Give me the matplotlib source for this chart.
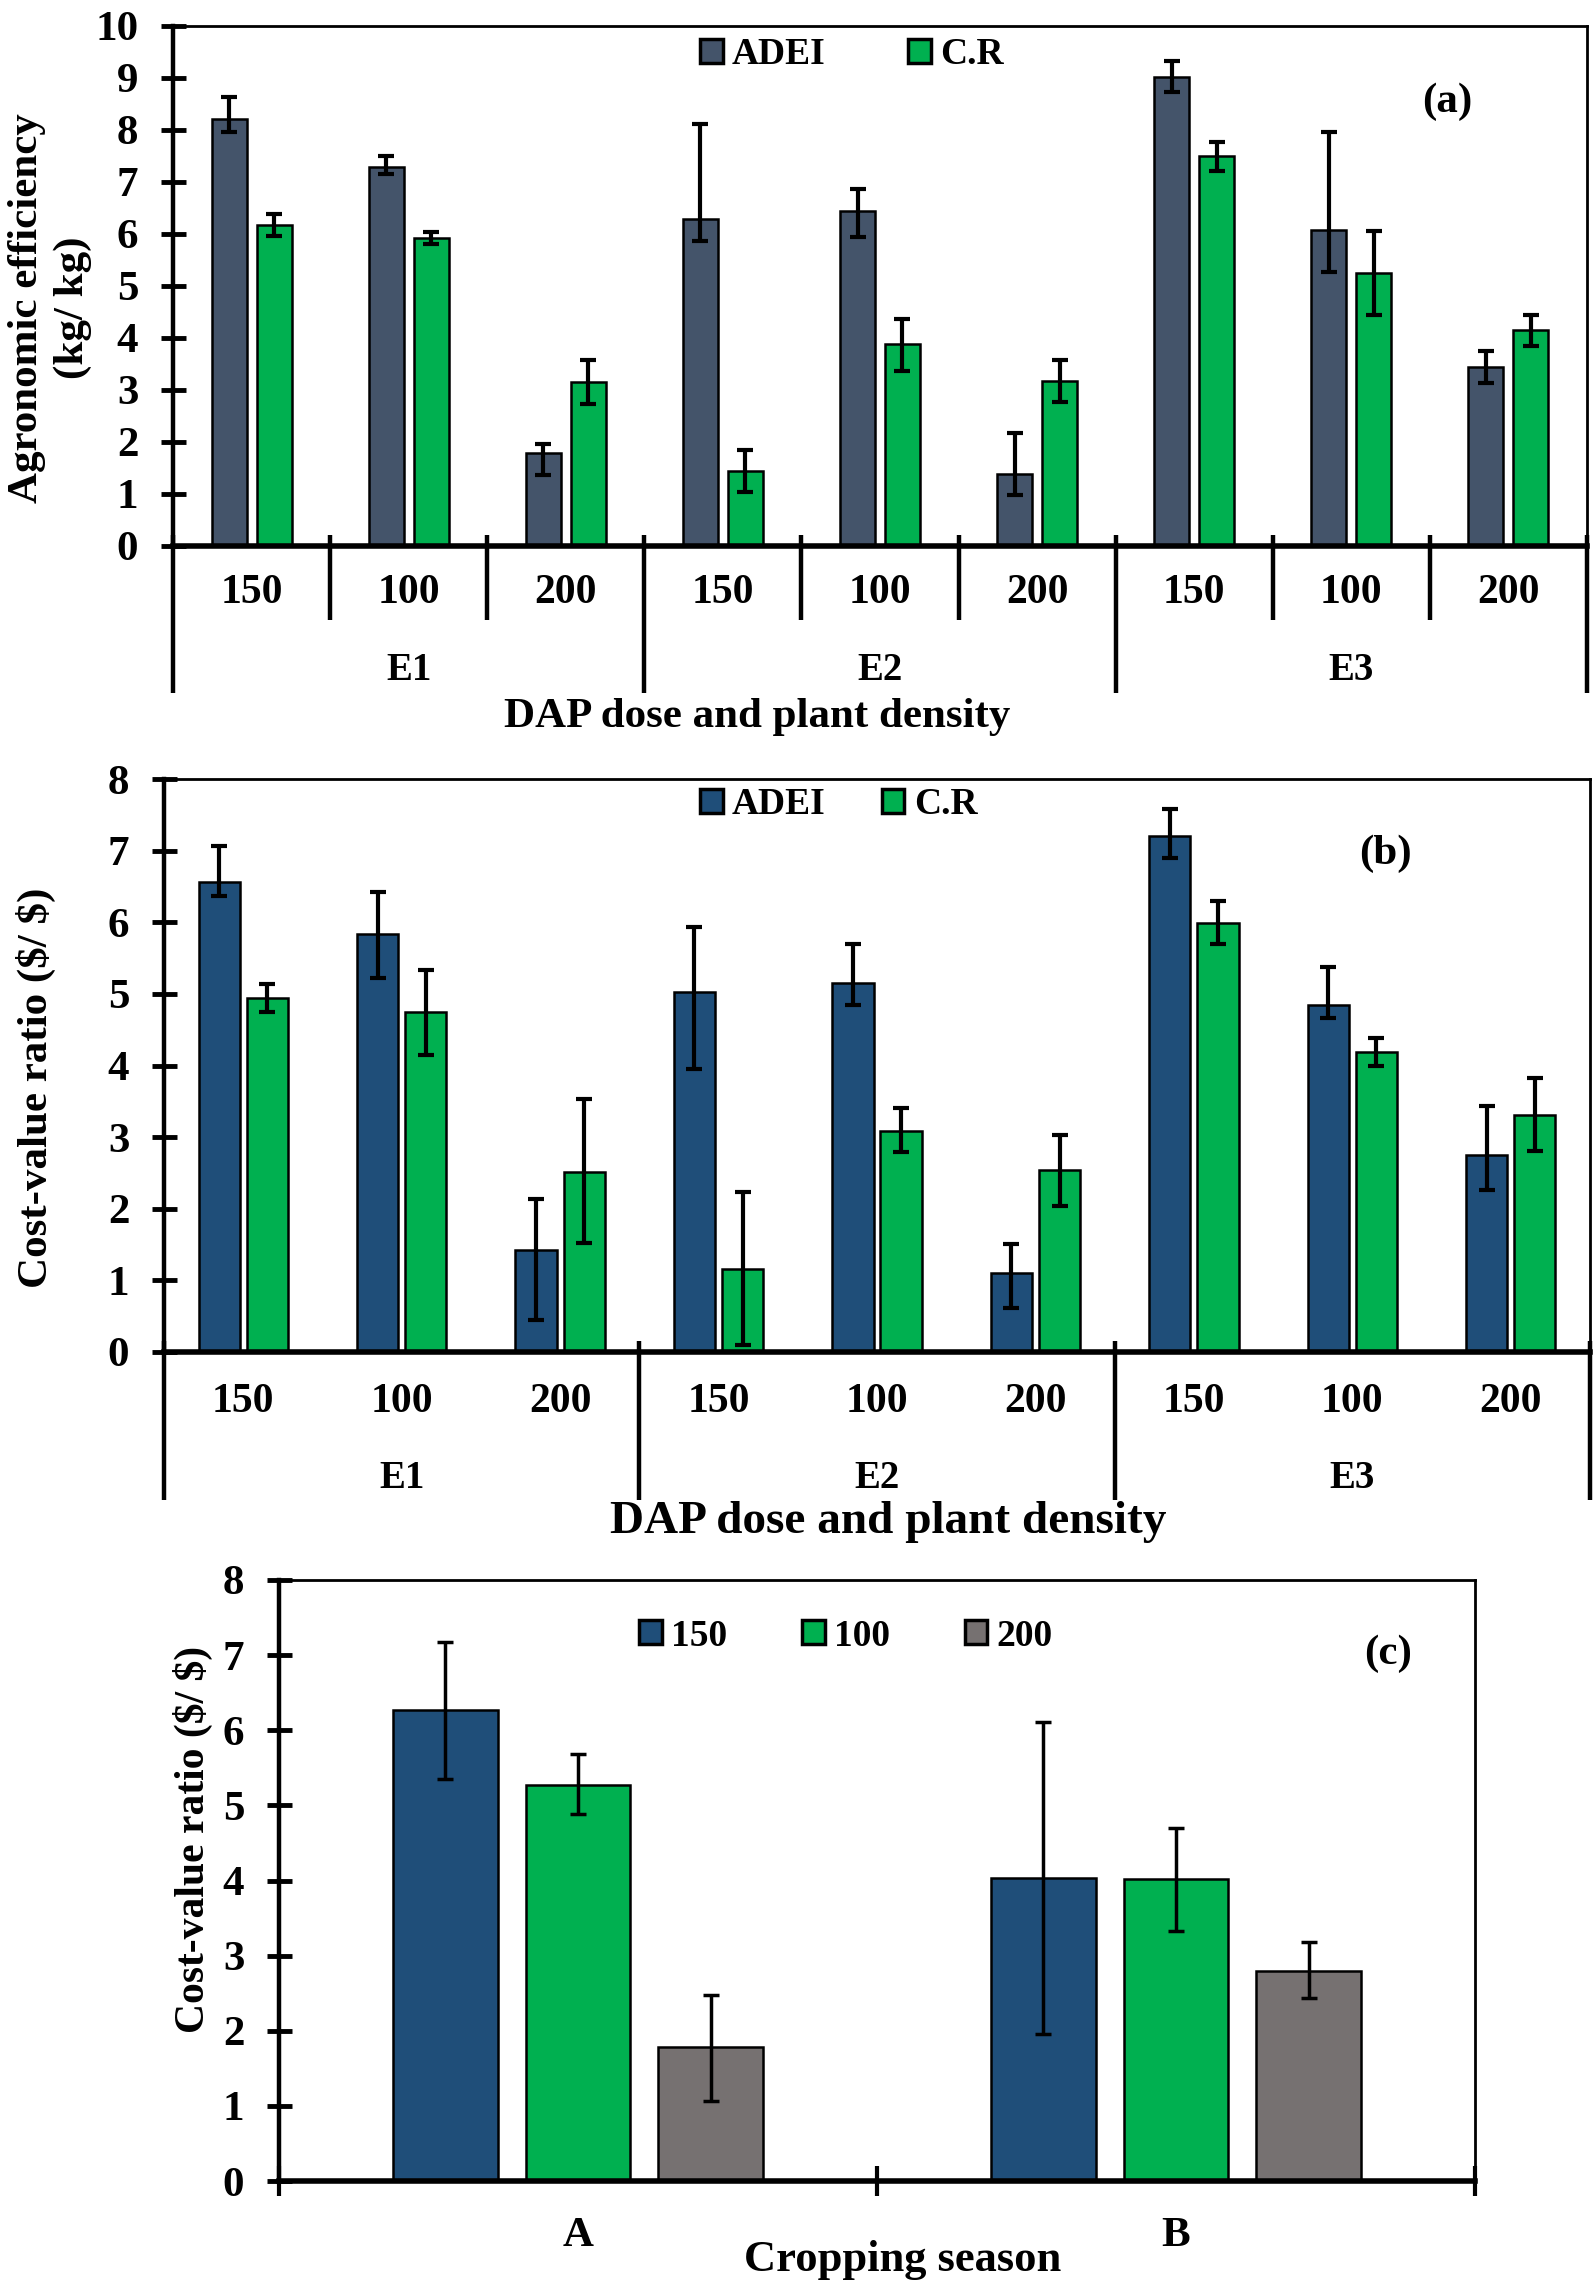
import numpy as np
import matplotlib
matplotlib.use("Agg")
import matplotlib.pyplot as plt
from matplotlib.patches import Patch

plt.rcParams['font.family'] = ['Liberation Serif', 'DejaVu Serif']
plt.rcParams['font.weight'] = 'bold'
plt.rcParams['axes.labelweight'] = 'bold'

# ---- data ----
groups = ['E1', 'E2', 'E3']
doses = ['150', '100', '200']

# panel (a): agronomic efficiency (kg/kg), error bar ends
a_adei = [8.22, 7.28, 1.78, 6.29, 6.45, 1.39, 9.02, 6.08, 3.45]
a_adei_hi = [8.63, 7.50, 1.96, 8.11, 6.86, 2.18, 9.33, 7.97, 3.75]
a_adei_lo = [7.97, 7.15, 1.37, 5.86, 5.95, 0.98, 8.74, 5.26, 3.14]
a_cr = [6.17, 5.93, 3.15, 1.45, 3.88, 3.17, 7.50, 5.25, 4.15]
a_cr_hi = [6.39, 6.04, 3.57, 1.84, 4.37, 3.57, 7.76, 6.05, 4.44]
a_cr_lo = [5.97, 5.80, 2.74, 1.03, 3.36, 2.76, 7.22, 4.44, 3.85]

# panel (b): cost-value ratio ($/$)
b_adei = [6.56, 5.83, 1.43, 5.03, 5.15, 1.10, 7.21, 4.85, 2.75]
b_adei_hi = [7.06, 6.42, 2.14, 5.93, 5.69, 1.51, 7.58, 5.38, 3.43]
b_adei_lo = [6.36, 5.22, 0.44, 3.95, 4.85, 0.61, 6.90, 4.66, 2.26]
b_cr = [4.94, 4.74, 2.52, 1.16, 3.09, 2.54, 5.99, 4.19, 3.31]
b_cr_hi = [5.14, 5.34, 3.53, 2.23, 3.41, 3.03, 6.29, 4.39, 3.82]
b_cr_lo = [4.74, 4.14, 1.52, 0.10, 2.79, 2.04, 5.69, 3.99, 2.81]

# panel (c): cost-value ratio by cropping season
seasons = ['A', 'B']
c_150 = [6.27, 4.03]
c_150_hi = [7.18, 6.11]
c_150_lo = [5.35, 1.96]
c_100 = [5.27, 4.02]
c_100_hi = [5.68, 4.70]
c_100_lo = [4.89, 3.33]
c_200 = [1.78, 2.80]
c_200_hi = [2.48, 3.18]
c_200_lo = [1.06, 2.43]

slate = '#44546A'
navy = '#1F4E79'
green = '#00B050'
grey = '#767171'

W, H = 1594, 2282
fig = plt.figure(figsize=(W / 100, H / 100), dpi=100)


def make_axes(left, top, right, bottom):
    return fig.add_axes([left / W, 1 - bottom / H, (right - left) / W, (bottom - top) / H])


def style_axes(ax, ymax, step=1):
    ax.set_ylim(0, ymax)
    ax.set_yticks(np.arange(0, ymax + 0.1, step))
    ax.spines['left'].set_linewidth(3.2)
    ax.spines['bottom'].set_linewidth(4)
    ax.spines['top'].set_linewidth(2)
    ax.spines['right'].set_linewidth(2)
    ax.tick_params(axis='y', direction='inout', length=18, width=3.5, pad=16, labelsize=31)


def errs(vals, lo, hi):
    v = np.array(vals)
    return [v - np.array(lo), np.array(hi) - v]


def bars(ax, x, vals, lo, hi, color, width, elw=3, cap=5.5):
    ax.bar(x, vals, width, color=color, edgecolor='black', linewidth=1.8, zorder=2)
    ax.errorbar(x, vals, yerr=errs(vals, lo, hi), fmt='none', ecolor='black',
                elinewidth=elw, capsize=cap, capthick=elw, zorder=3)


def group_axis(ax, ax_h, short_ticks, y_cat, y_grp, y_lab, long_end, xlab_x, xlab_size):
    tr = ax.get_xaxis_transform()
    ax.set_xlim(-0.5, 8.5)
    ax.set_xticks([])
    if short_ticks:
        for b in [0.5, 1.5, 3.5, 4.5, 6.5, 7.5]:
            ax.plot([b, b], [11 / ax_h, -74 / ax_h], color='black', lw=3.2,
                    transform=tr, clip_on=False, solid_capstyle='butt')
    for b in [-0.5, 2.5, 5.5, 8.5]:
        ax.plot([b, b], [11 / ax_h, -long_end / ax_h], color='black', lw=3.2,
                transform=tr, clip_on=False, solid_capstyle='butt')
    for i in range(9):
        ax.text(i, -y_cat / ax_h, doses[i % 3], transform=tr, ha='center', va='center', fontsize=30)
    for g, name in enumerate(groups):
        ax.text(3 * g + 1, -y_grp / ax_h, name, transform=tr, ha='center', va='center', fontsize=28)
    fig.text(xlab_x / W, 1 - y_lab / H, 'DAP dose and plant density', ha='center', va='center',
             fontsize=xlab_size)


def legend(ax, labels, colors, x, y, colsp, size=27):
    handles = [Patch(facecolor=c, edgecolor='black', linewidth=2.5) for c in colors]
    ax.legend(handles, labels, ncol=len(labels), loc='center left',
              bbox_to_anchor=(x / W, 1 - y / H), bbox_transform=fig.transFigure,
              frameon=False, fontsize=size, handlelength=0.6, handleheight=0.6,
              handletextpad=0.25, columnspacing=colsp, borderpad=0, borderaxespad=0)


x9 = np.arange(9)

# ---- panel (a) ----
axa = make_axes(173, 26, 1587, 546)
style_axes(axa, 10)
bars(axa, x9 - 0.143, a_adei, a_adei_lo, a_adei_hi, slate, 0.223)
bars(axa, x9 + 0.143, a_cr, a_cr_lo, a_cr_hi, green, 0.223)
group_axis(axa, 520, True, 47, 124, 717, 147, 757, 31)
legend(axa, ['ADEI', 'C.R'], [slate, green], 700, 55, 2.2)
fig.text(1447 / W, 1 - 102 / H, '(a)', ha='center', va='center', fontsize=31)
fig.text(50 / W, 1 - 308 / H, 'Agronomic efficiency\n(kg/ kg)', rotation=90,
         ha='center', va='center', fontsize=31, linespacing=1.25)

# ---- panel (b) ----
axb = make_axes(164, 779, 1590, 1352)
style_axes(axb, 8)
bars(axb, x9 - 0.152, b_adei, b_adei_lo, b_adei_hi, navy, 0.26)
bars(axb, x9 + 0.152, b_cr, b_cr_lo, b_cr_hi, green, 0.26)
group_axis(axb, 573, False, 50, 126, 1522, 148, 888, 34)
legend(axb, ['ADEI', 'C.R'], [navy, green], 700, 805, 1.5)
fig.text(1385 / W, 1 - 854 / H, '(b)', ha='center', va='center', fontsize=31)
fig.text(36 / W, 1 - 1088 / H, 'Cost-value ratio (\\$/ \\$)', rotation=90,
         ha='center', va='center', fontsize=31)

# ---- panel (c) ----
axc = make_axes(279, 1580, 1475, 2181)
style_axes(axc, 8)
x2 = np.arange(2)
bars(axc, x2 - 0.222, c_150, c_150_lo, c_150_hi, navy, 0.175, elw=2.5, cap=6)
bars(axc, x2, c_100, c_100_lo, c_100_hi, green, 0.175, elw=2.5, cap=6)
bars(axc, x2 + 0.222, c_200, c_200_lo, c_200_hi, grey, 0.175, elw=2.5, cap=6)
axc.set_xlim(-0.5, 1.5)
axc.set_xticks(x2)
axc.set_xticklabels(seasons)
axc.set_xticks([-0.5, 0.5, 1.5], minor=True)
axc.tick_params(axis='x', which='major', length=0, pad=26, labelsize=31)
axc.tick_params(axis='x', which='minor', direction='inout', length=22, width=3)
legend(axc, doses, [navy, green, grey], 639, 1636, 2.0)
fig.text(1388 / W, 1 - 1654 / H, '(c)', ha='center', va='center', fontsize=31)
fig.text(193 / W, 1 - 1839 / H, 'Cost-value ratio (\\$/ \\$)', rotation=90,
         ha='center', va='center', fontsize=30)
fig.text(903 / W, 1 - 2260 / H, 'Cropping season', ha='center', va='center', fontsize=32)

fig.savefig('out.png', dpi=100)
